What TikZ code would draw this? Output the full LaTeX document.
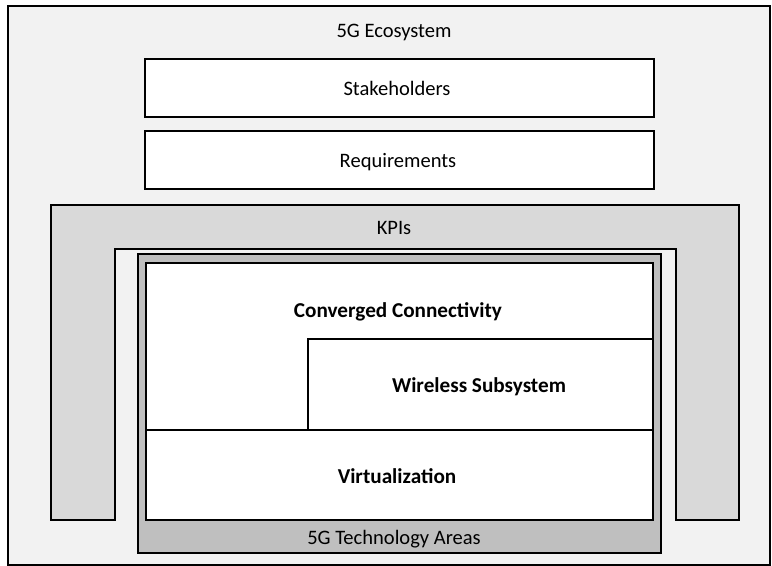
\documentclass[tikz,border=0pt]{standalone}
\usepackage{fontspec}
\setmainfont{Carlito}
\definecolor{bgcol}{HTML}{F2F2F2}
\definecolor{kpicol}{HTML}{D9D9D9}
\definecolor{techcol}{HTML}{BFBFBF}
\tikzset{
  boxline/.style={draw=black, line width=1.5pt},
  lbl/.style={font=\fontsize{15.4}{18}\selectfont, inner sep=0pt, text=black, anchor=base},
  blbl/.style={font=\fontsize{15.9}{19}\selectfont\bfseries, inner sep=0pt, text=black, anchor=base},
}
\begin{document}
\begin{tikzpicture}[x=0.75pt, y=-0.75pt]
\useasboundingbox (0,0) rectangle (772,566);
% outer ecosystem
\draw[boxline, fill=bgcol] (8,6) rectangle (770,565);
\node[lbl] (eco) at (394,38) {5G Ecosystem};
% stakeholders & requirements
\draw[boxline, fill=white] (145,59) rectangle (654,117);
\node[lbl] (stake) at (397,95.5) {Stakeholders};
\draw[boxline, fill=white] (145,131) rectangle (654,189);
\node[lbl] (req) at (398,167.5) {Requirements};
% KPIs
\draw[boxline, fill=kpicol, line join=miter]
  (51,205) -- (739,205) -- (739,520) -- (676,520) -- (676,249)
  -- (115,249) -- (115,520) -- (51,520) -- cycle;
\node[lbl] (kpi) at (394,235) {KPIs};
% technology areas
\draw[boxline, fill=techcol] (138,254) rectangle (661,553);
\node[lbl] (tech) at (394,544.5) {5G Technology Areas};
\draw[boxline, fill=white] (146,263) rectangle (653,430);
\node[blbl] (conv) at (398,317.5) {Converged Connectivity};
\draw[boxline, fill=white] (308,339) rectangle (653,430);
\node[blbl] (wire) at (479,392.5) {Wireless Subsystem};
\draw[boxline, fill=white] (146,430) rectangle (653,520);
\node[blbl] (virt) at (397,484) {Virtualization};
\end{tikzpicture}
\end{document}
